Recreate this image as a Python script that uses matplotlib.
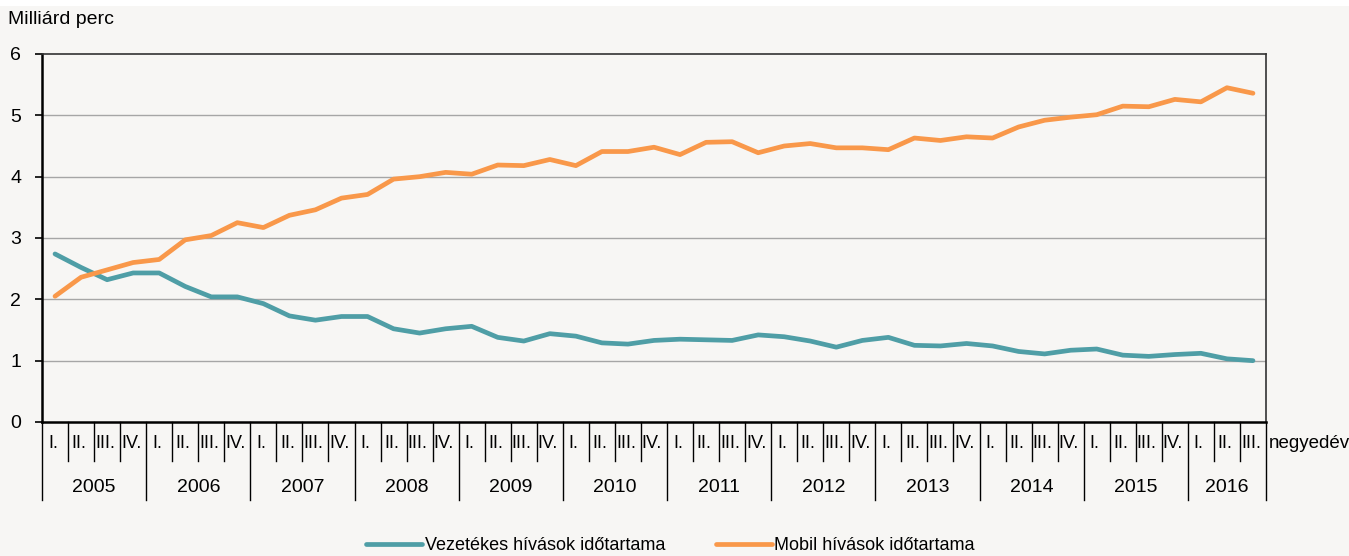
import numpy as np
import matplotlib.pyplot as plt
import matplotlib.transforms as mtransforms

plt.rcParams['font.family'] = ['Liberation Sans Narrow', 'Liberation Sans', 'DejaVu Sans']

# Data (billion minutes per quarter), 2005 Q1 .. 2016 Q3
years = ['2005', '2006', '2007', '2008', '2009', '2010', '2011', '2012',
         '2013', '2014', '2015', '2016']
quarter_names = ['I.', 'II.', 'III.', 'IV.']
n_quarters = 47

fixed_line = [2.74, 2.52, 2.32, 2.43, 2.43, 2.21, 2.04, 2.04, 1.93, 1.73, 1.66, 1.72,
              1.72, 1.52, 1.45, 1.52, 1.56, 1.38, 1.32, 1.44, 1.40, 1.29, 1.27, 1.33,
              1.35, 1.34, 1.33, 1.42, 1.39, 1.32, 1.22, 1.33, 1.38, 1.25, 1.24, 1.28,
              1.24, 1.15, 1.11, 1.17, 1.19, 1.09, 1.07, 1.10, 1.12, 1.03, 1.00]
mobile = [2.05, 2.36, 2.48, 2.60, 2.65, 2.97, 3.04, 3.25, 3.17, 3.37, 3.46, 3.65,
          3.71, 3.96, 4.00, 4.07, 4.04, 4.19, 4.18, 4.28, 4.18, 4.41, 4.41, 4.48,
          4.36, 4.56, 4.57, 4.39, 4.50, 4.54, 4.47, 4.47, 4.44, 4.63, 4.59, 4.65,
          4.63, 4.81, 4.92, 4.97, 5.01, 5.15, 5.14, 5.26, 5.22, 5.45, 5.36]

bg = '#f7f6f4'
blue = '#4f9ea6'
orange = '#f9984a'

fig = plt.figure(figsize=(13.49, 5.56), dpi=100, facecolor=bg)
# white strip at the very top
fig.patches.append(plt.Rectangle((0, 0.99), 1, 0.01, transform=fig.transFigure,
                                 facecolor='white', edgecolor='none'))
ax = fig.add_axes([42 / 1349, 1 - 422 / 556, (1266 - 42) / 1349, (422 - 54) / 556])
ax.set_facecolor(bg)

x = np.arange(n_quarters)
ax.plot(x, fixed_line, color=blue, lw=3.4, solid_capstyle='round',
        label='Vezetékes hívások időtartama')
ax.plot(x, mobile, color=orange, lw=3.4, solid_capstyle='round',
        label='Mobil hívások időtartama')

ax.set_xlim(-0.5, n_quarters - 0.5)
ax.set_ylim(0, 6)
ax.set_yticks(range(7))
ax.tick_params(axis='y', labelsize=14, length=5, width=1.2, direction='out', pad=10)
ax.set_xticks([])
for y in range(1, 6):
    ax.axhline(y, color='#a6a6a6', lw=1.0, zorder=0)
for side in ['left', 'bottom']:
    ax.spines[side].set_linewidth(1.8)
    ax.spines[side].set_color('black')
for side in ['top', 'right']:
    ax.spines[side].set_linewidth(1.2)
    ax.spines[side].set_color('#333333')

fig.text(8 / 1349, 1 - 19 / 556, 'Milliárd perc', fontsize=14, va='center', ha='left')

# category axis: quarters and years
trans = mtransforms.blended_transform_factory(ax.transData, fig.transFigure)
y_axis = 1 - 422 / 556
y_q = 1 - 461 / 556
y_y = 1 - 500 / 556
for i in range(n_quarters + 1):
    xb = i - 0.5
    bottom = y_y if (i % 4 == 0 or i == n_quarters) else y_q
    ax.plot([xb, xb], [y_axis, bottom], color='black', lw=1.0, transform=trans,
            clip_on=False)
for i in range(n_quarters):
    ax.text(i - 0.08, 1 - 443 / 556, quarter_names[i % 4], transform=trans, ha='center',
            va='center', fontsize=13)
for k, yr in enumerate(years):
    first = 4 * k
    last = min(4 * k + 3, n_quarters - 1)
    ax.text((first + last) / 2, 1 - 488 / 556, yr, transform=trans, ha='center',
            va='center', fontsize=14)
fig.text(1269 / 1349, 1 - 443 / 556, 'negyedév', ha='left', va='center', fontsize=13.5)

fig.legend(loc='center', bbox_to_anchor=(0.497, 1 - 546 / 556), ncol=2, frameon=False,
           fontsize=13, handlelength=3.1, handletextpad=0.15, columnspacing=2.8)

fig.savefig('out.png', dpi=100, facecolor=bg)
